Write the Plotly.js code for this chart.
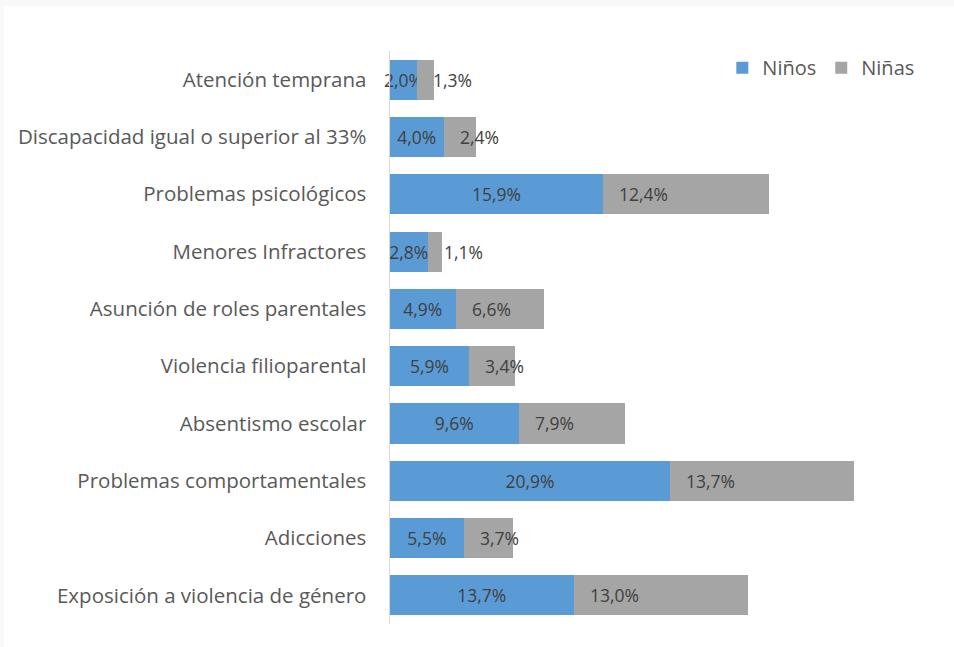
<!DOCTYPE html>
<html>
<head>
<meta charset="utf-8">
<script src="https://cdn.plot.ly/plotly-3.0.1.min.js"></script>
<style>
html,body{margin:0;padding:0;background:#f9f8f7;width:954px;height:647px;overflow:hidden;}
#chart{position:absolute;left:4px;top:6px;width:950px;height:641px;background:#fff;}
</style>
</head>
<body>
<div id="chart"></div>
<script>
const categories = [
  "Atención temprana",
  "Discapacidad igual o superior al 33%",
  "Problemas psicológicos",
  "Menores Infractores",
  "Asunción de roles parentales",
  "Violencia filioparental",
  "Absentismo escolar",
  "Problemas comportamentales",
  "Adicciones",
  "Exposición a violencia de género"
];
const ninos = [2.0, 4.0, 15.9, 2.8, 4.9, 5.9, 9.6, 20.9, 5.5, 13.7];
const ninas = [1.3, 2.4, 12.4, 1.1, 6.6, 3.4, 7.9, 13.7, 3.7, 13.0];
const seriesNames = ["Niños", "Niñas"];

const fmt = v => v.toFixed(1).replace(".", ",") + "%";
const labelFont = {family: "Open Sans, sans-serif", size: 17.5, color: "#404040"};

const traces = [
  {
    type: "bar", orientation: "h", name: seriesNames[0],
    y: categories, x: ninos,
    marker: {color: "#5B9BD5"},
    width: 0.7,
    text: ninos.map(fmt), textposition: "inside", insidetextanchor: "middle",
    textangle: 0, constraintext: "none", cliponaxis: false,
    insidetextfont: labelFont, hoverinfo: "skip"
  },
  {
    type: "bar", orientation: "h", name: seriesNames[1],
    y: categories, x: ninas,
    marker: {color: "#A5A5A5"},
    width: 0.7, cliponaxis: false, hoverinfo: "skip"
  }
];

const annotations = categories.map((c, i) => ({
  x: ninos[i], y: c, xref: "x", yref: "y",
  text: fmt(ninas[i]), showarrow: false,
  xanchor: "left", xshift: 14, font: labelFont
}));

const layout = {
  width: 950, height: 641,
  margin: {l: 386, r: 28, t: 45, b: 23},
  paper_bgcolor: "#ffffff", plot_bgcolor: "#ffffff",
  barmode: "stack",
  showlegend: true,
  legend: {
    orientation: "h", x: 0.62, xanchor: "left", y: 1.005, yanchor: "top",
    font: {family: "Open Sans, sans-serif", size: 20, color: "#595959"},
    traceorder: "normal", itemwidth: 30
  },
  xaxis: {range: [0, 40], showgrid: false, zeroline: false, showticklabels: false, showline: false, fixedrange: true},
  yaxis: {
    autorange: "reversed", showgrid: false, zeroline: false,
    showline: true, linecolor: "#d9d9d9", linewidth: 1.5,
    ticks: "", ticklabelstandoff: 18,
    tickfont: {family: "Open Sans, sans-serif", size: 20.5, color: "#595959"}
  },
  annotations: annotations,
  font: {family: "Open Sans, sans-serif"}
};

Plotly.newPlot("chart", traces, layout, {displayModeBar: false, staticPlot: true});
</script>
</body>
</html>
